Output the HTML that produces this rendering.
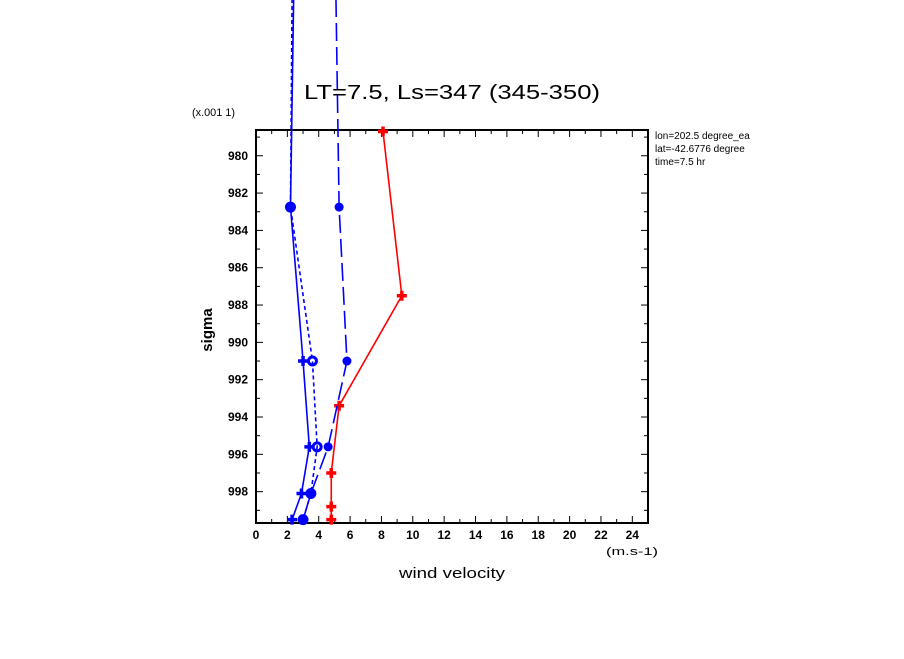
<!DOCTYPE html>
<html><head><meta charset="utf-8"><style>
body{margin:0;background:#fff;}
svg text{font-family:"Liberation Sans",sans-serif;}
</style></head><body>
<svg width="904" height="654" xmlns="http://www.w3.org/2000/svg">
<text x="304" y="99" font-size="20" textLength="296" lengthAdjust="spacingAndGlyphs">LT=7.5, Ls=347 (345-350)</text>
<text x="192" y="116" font-size="11" textLength="43" lengthAdjust="spacingAndGlyphs">(x.001 1)</text>
<text x="655" y="139" font-size="10">lon=202.5 degree_ea</text>
<text x="655" y="152" font-size="10">lat=-42.6776 degree</text>
<text x="655" y="165" font-size="10">time=7.5 hr</text>
<rect x="780" y="128" width="120" height="45" fill="#fff"/>
<text x="212" y="330" font-size="15" text-anchor="middle" font-weight="bold" transform="rotate(-90 212 330)">sigma</text>
<text x="399" y="578" font-size="15" textLength="106" lengthAdjust="spacingAndGlyphs">wind velocity</text>
<text x="606" y="555" font-size="11" textLength="52" lengthAdjust="spacingAndGlyphs">(m.s-1)</text>
<g id="axes"></g>
<g id="series"></g>
</svg>
<script>
const xTicks=[0,2,4,6,8,10,12,14,16,18,20,22,24];
const yTicks=[980,982,984,986,988,990,992,994,996,998];
const sigRed=[978.7,987.5,993.4,997.0,998.8,999.5];
const uRed=[8.1,9.3,5.3,4.8,4.8,4.8];
const sigBlue=[971.6,982.75,991.0,995.6,998.1,999.5];
const uSolid=[2.4,2.2,3.0,3.4,2.9,2.3];
const uShort=[2.3,2.2,3.6,3.9,3.5,3.0];
const uLong=[5.1,5.3,5.8,4.6,3.5,3.0];
const X0=256,X1=648,Y0=130,Y1=523,XMIN=0,XMAX=25,YMIN=978.62,YMAX=999.68;
const sx=v=>X0+(v-XMIN)/(XMAX-XMIN)*(X1-X0);
const sy=v=>Y0+(v-YMIN)/(YMAX-YMIN)*(Y1-Y0);
const NS="http://www.w3.org/2000/svg";
function mk(t,a,p){const e=document.createElementNS(NS,t);for(const k in a)e.setAttribute(k,a[k]);p.appendChild(e);return e;}
const ax=document.getElementById('axes'),sr=document.getElementById('series');
const frame=mk('rect',{x:X0,y:Y0,width:X1-X0,height:Y1-Y0,fill:'none',stroke:'#000','stroke-width':2},ax);


for(let v=0;v<=25;v++){const x=sx(v);const L=v%2==0?7:4;mk('line',{x1:x,x2:x,y1:Y1,y2:Y1-L,stroke:'#000'},ax);mk('line',{x1:x,x2:x,y1:Y0,y2:Y0+L,stroke:'#000'},ax);}
for(let v=979;v<=999.5;v+=1){const y=sy(v);const L=v%2==0?7:4;mk('line',{x1:X0,x2:X0+L,y1:y,y2:y,stroke:'#000'},ax);mk('line',{x1:X1,x2:X1-L,y1:y,y2:y,stroke:'#000'},ax);}
xTicks.forEach(v=>{const t=mk('text',{x:sx(v),y:Y1+16,'text-anchor':'middle','font-size':12,'font-weight':'bold'},ax);t.textContent=v;

});
yTicks.forEach(v=>{const t=mk('text',{x:X0-8,y:sy(v)+4,'text-anchor':'end','font-size':12,'font-weight':'bold'},ax);t.textContent=v;

});
function series(us,ss,color,dash,marker,name){
 const pts=us.map((u,i)=>sx(u)+','+sy(ss[i])).join(' ');
 const pl=mk('polyline',{points:pts,fill:'none',stroke:color,'stroke-width':1.6,'stroke-dasharray':dash},sr);
 
 
 us.forEach((u,i)=>{if(ss[i]<YMIN)return;const x=sx(u),y=sy(ss[i]);let m;
  if(marker=='plus'){m=mk('path',{d:`M${x-5},${y}h10M${x},${y-5}v10`,stroke:color,'stroke-width':3.5},sr);}
  else if(marker=='circle'){m=mk('circle',{cx:x,cy:y,r:4,fill:'none',stroke:color,'stroke-width':3},sr);}
  else {m=mk('circle',{cx:x,cy:y,r:4.5,fill:color},sr);}
  
  });
}
series(uRed,sigRed,'#f00','none','plus','red-series');
series(uSolid,sigBlue,'#00f','none','plus','blue-solid-series');
series(uShort,sigBlue,'#00f','4,3','circle','blue-short-dash-series');
series(uLong,sigBlue,'#00f','18,6','dot','blue-long-dash-series');
</script>
</body></html>
